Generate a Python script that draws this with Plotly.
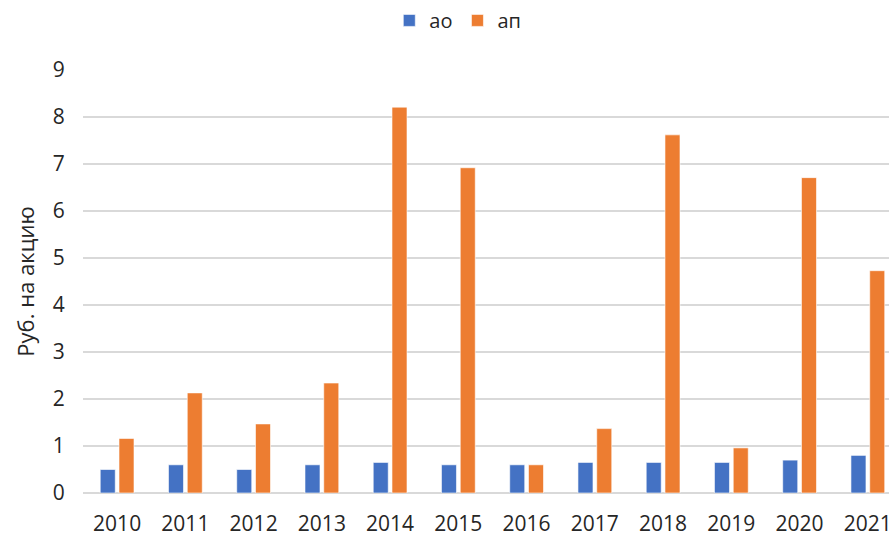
import plotly.graph_objects as go

years = ["2010", "2011", "2012", "2013", "2014", "2015", "2016", "2017", "2018", "2019", "2020", "2021"]
ao = [0.5, 0.6, 0.5, 0.6, 0.65, 0.6, 0.6, 0.65, 0.65, 0.65, 0.7, 0.8]
ap = [1.16, 2.13, 1.47, 2.34, 8.21, 6.92, 0.6, 1.37, 7.62, 0.96, 6.71, 4.73]
y_ticks = list(range(0, 10))

font_family = "Open Sans, Noto Sans, sans-serif"
txt = "#262626"

fig = go.Figure()
fig.add_trace(go.Bar(name="ао", x=years, y=ao, marker=dict(color="#4472C4", line=dict(color="rgba(255,255,255,0.6)", width=1))))
fig.add_trace(go.Bar(name="ап", x=years, y=ap, marker=dict(color="#ED7D31", line=dict(color="rgba(255,255,255,0.6)", width=1))))

fig.update_layout(
    width=892, height=537,
    margin=dict(l=83, r=0, t=70, b=43),
    paper_bgcolor="white", plot_bgcolor="white",
    barmode="group", bargap=0.45, bargroupgap=0.2,
    font=dict(family=font_family, color=txt),
    showlegend=True,
    legend=dict(orientation="h", x=0.465, xanchor="center", yref="container", y=0.962, yanchor="middle",
                font=dict(size=20, color=txt), itemwidth=30, traceorder="normal"),
    xaxis=dict(type="category", range=[-0.5, 11.31], showgrid=False, showline=False, zeroline=False,
               tickfont=dict(size=21, color=txt), ticks="outside", ticklen=12, tickcolor="rgba(0,0,0,0)"),
    yaxis=dict(range=[0, 9], tickvals=y_ticks, showgrid=True, gridcolor="#d9d9d9", gridwidth=1.5,
               zeroline=True, zerolinecolor="#d9d9d9", zerolinewidth=1.5, showline=False,
               tickfont=dict(size=21, color=txt), ticks="outside", ticklen=13, tickcolor="rgba(0,0,0,0)",
               title=dict(text="Руб. на акцию", font=dict(size=22, color=txt), standoff=12)),
)

fig.write_html("out.html")
